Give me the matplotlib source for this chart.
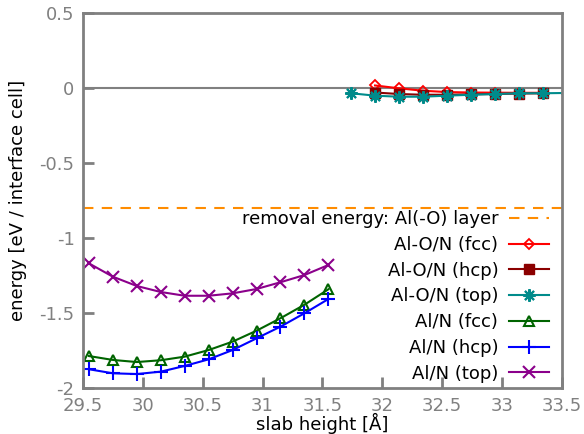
import matplotlib
matplotlib.use("Agg")
import matplotlib.pyplot as plt

# slab heights [A]
x_aln = [29.55, 29.75, 29.95, 30.15, 30.35, 30.55, 30.75, 30.95, 31.15, 31.35, 31.55]
x_alon = [31.94, 32.14, 32.34, 32.54, 32.74, 32.94, 33.14, 33.34]
x_alon_top = [31.74, 31.94, 32.14, 32.34, 32.54, 32.74, 32.94, 33.14, 33.34, 33.54]

# energies [eV / interface cell]
e_alon_fcc = [0.017, -0.002, -0.018, -0.027, -0.03, -0.031, -0.032, -0.032]
e_alon_hcp = [-0.03, -0.04, -0.045, -0.045, -0.042, -0.04, -0.037, -0.035]
e_alon_top = [-0.035, -0.051, -0.058, -0.058, -0.051, -0.045, -0.04, -0.035, -0.035, -0.033]
e_aln_fcc = [-1.787, -1.813, -1.827, -1.815, -1.791, -1.747, -1.691, -1.618, -1.535, -1.445, -1.342]
e_aln_hcp = [-1.875, -1.902, -1.907, -1.891, -1.853, -1.809, -1.747, -1.669, -1.591, -1.502, -1.407]
e_aln_top = [-1.169, -1.258, -1.32, -1.36, -1.385, -1.385, -1.369, -1.34, -1.295, -1.247, -1.18]

removal_energy = -0.8

grey = "#808080"
plt.rcParams["font.family"] = "DejaVu Sans"
plt.rcParams["font.size"] = 13

fig = plt.figure(figsize=(5.84, 4.34), dpi=100)
ax = fig.add_axes([0.142, 0.106, 0.820, 0.864])

ax.axhline(0, color=grey, lw=1.5, zorder=1)
ax.axhline(removal_energy, color="#ff8c00", lw=1.5, ls=(0, (5, 4)),
           label="removal energy: Al(-O) layer")

ax.plot(x_alon, e_alon_fcc, color="#ff0000", lw=1.5, marker="D", ms=5.5,
        mfc="none", mew=1.3, label="Al-O/N (fcc)")
ax.plot(x_alon, e_alon_hcp, color="#8b0000", lw=1.5, marker="s", ms=7,
        label="Al-O/N (hcp)")
ax.plot(x_alon_top, e_alon_top, color="#008b8b", lw=1.5, marker=(8, 2, 0), ms=9,
        mew=1.5, label="Al-O/N (top)")
ax.plot(x_aln, e_aln_fcc, color="#006400", lw=1.5, marker="^", ms=7,
        mfc="none", mew=1.5, label="Al/N (fcc)")
ax.plot(x_aln, e_aln_hcp, color="#0000ff", lw=1.5, marker="+", ms=10,
        mew=1.5, label="Al/N (hcp)")
ax.plot(x_aln, e_aln_top, color="#8b008b", lw=1.5, marker="x", ms=8,
        mew=1.5, label="Al/N (top)")

ax.set_xlim(29.5, 33.5)
ax.set_ylim(-2, 0.5)
ax.set_xticks([29.5, 30, 30.5, 31, 31.5, 32, 32.5, 33, 33.5])
ax.set_xticklabels(["29.5", "30", "30.5", "31", "31.5", "32", "32.5", "33", "33.5"])
ax.set_yticks([-2, -1.5, -1, -0.5, 0, 0.5])
ax.set_yticklabels(["-2", "-1.5", "-1", "-0.5", "0", "0.5"])

for s in ax.spines.values():
    s.set_color(grey)
    s.set_linewidth(2)
ax.tick_params(axis="both", direction="in", length=8, width=2, color=grey,
               labelcolor=grey, labelsize=13, top=False, right=False)
ax.tick_params(axis="x", pad=6.5)
ax.tick_params(axis="y", pad=6)

ax.set_xlabel("slab height [Å]", labelpad=-1.5)
ax.set_ylabel("energy [eV / interface cell]", labelpad=9)

leg = ax.legend(loc="lower right", bbox_to_anchor=(0.973, 0.014),
                markerfirst=False, frameon=False,
                handlelength=2.2, handletextpad=0.6, labelspacing=0.43,
                borderaxespad=0, borderpad=0, fontsize=13)
leg._legend_box.align = "right"

fig.savefig("out.png", dpi=100)
